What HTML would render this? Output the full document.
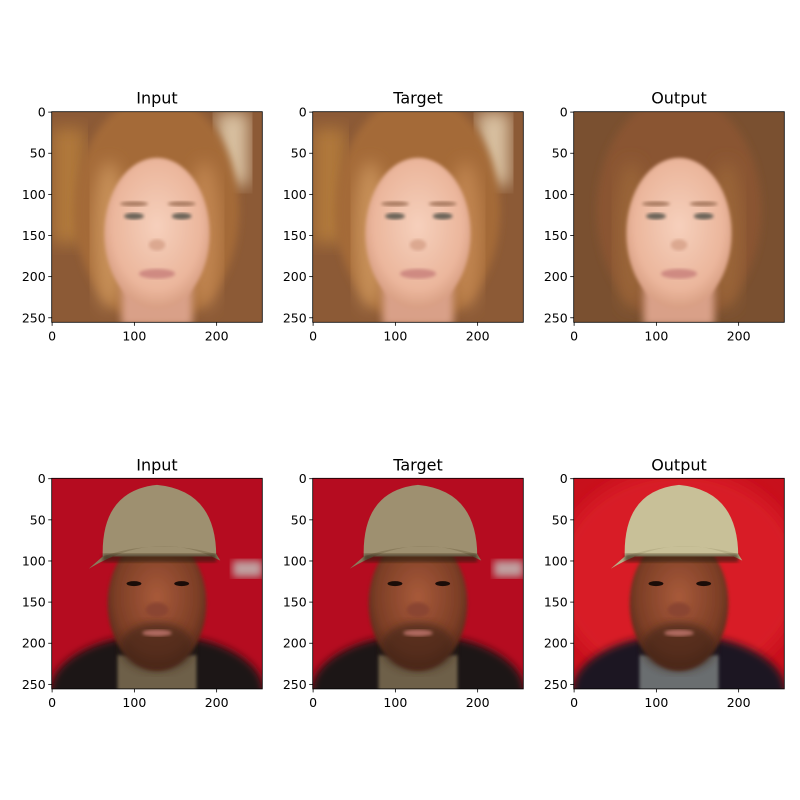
<!DOCTYPE html>
<html><head><meta charset="utf-8"><style>
html,body{margin:0;padding:0;background:#fff;}
svg{display:block;font-family:"DejaVu Sans","Liberation Sans",sans-serif;}
</style></head><body>
<svg id="fig" width="800" height="800" viewBox="0 0 800 800">
<defs>
<filter id="b2"><feGaussianBlur stdDeviation="2"/></filter>
<filter id="b5"><feGaussianBlur stdDeviation="5"/></filter>
<filter id="b10"><feGaussianBlur stdDeviation="10"/></filter>
<clipPath id="clipImg"><rect x="0" y="0" width="256" height="256"/></clipPath>
<radialGradient id="skinW" cx="0.5" cy="0.45" r="0.6"><stop offset="0" stop-color="#f6d0bc"/><stop offset="0.7" stop-color="#ebb69c"/><stop offset="1" stop-color="#d09478"/></radialGradient>
<radialGradient id="skinM" cx="0.5" cy="0.45" r="0.6"><stop offset="0" stop-color="#a85a3a"/><stop offset="0.7" stop-color="#7c3e26"/><stop offset="1" stop-color="#4e2416"/></radialGradient>
</defs>
</svg>
<script>
const panelTitles = ["Input","Target","Output","Input","Target","Output"];
const panelKinds = ["woman","woman","womanOut","man","man","manOut"];
const yTicks = [0,50,100,150,200,250];
const xTicks = [0,100,200];
const imgSize = 256;

const NS="http://www.w3.org/2000/svg";
const svg=document.getElementById('fig');
const colX=[51.7,312.7,573.7], rowY=[111.7,478.3], W=210.6;
function el(tag,attrs,parent){const e=document.createElementNS(NS,tag);for(const k in attrs)e.setAttribute(k,attrs[k]);(parent||svg).appendChild(e);return e;}
function sc(v){return (v+0.5)/imgSize*W;}

function drawWoman(g,out){
  el('rect',{x:0,y:0,width:256,height:256,fill:out?'#7a5030':'#8c5a36'},g);
  if(!out){el('rect',{x:200,y:0,width:40,height:90,fill:'#d8c0a0',filter:'url(#b10)'},g);
  el('rect',{x:0,y:20,width:40,height:140,fill:'#b0783a',filter:'url(#b10)'},g);}
  el('ellipse',{cx:128,cy:120,rx:100,ry:140,fill:out?'#8a5530':'#a46a38',filter:'url(#b5)'},g);
  el('ellipse',{cx:70,cy:150,rx:20,ry:90,fill:out?'#9a6538':'#c79058',filter:'url(#b10)'},g);
  el('ellipse',{cx:186,cy:150,rx:20,ry:90,fill:out?'#9a6538':'#c08450',filter:'url(#b10)'},g);
  el('rect',{x:85,y:210,width:86,height:50,fill:'#d9a088',filter:'url(#b5)'},g);
  el('ellipse',{cx:128,cy:148,rx:64,ry:92,fill:'url(#skinW)',filter:'url(#b2)'},g);
  el('ellipse',{cx:100,cy:127,rx:12,ry:4,fill:'#6a6458',filter:'url(#b2)'},g);
  el('ellipse',{cx:158,cy:127,rx:12,ry:4,fill:'#6a6458',filter:'url(#b2)'},g);
  el('ellipse',{cx:100,cy:112,rx:17,ry:3,fill:'#a87a60',filter:'url(#b2)'},g);
  el('ellipse',{cx:158,cy:112,rx:17,ry:3,fill:'#a87a60',filter:'url(#b2)'},g);
  el('ellipse',{cx:128,cy:162,rx:10,ry:7,fill:'#dca890',filter:'url(#b2)'},g);
  el('ellipse',{cx:128,cy:197,rx:22,ry:6,fill:'#cf8a82',filter:'url(#b2)'},g);
}
function drawMan(g,out){
  el('rect',{x:0,y:0,width:256,height:256,fill:out?'#c8101c':'#b50c20'},g);
  if(out)el('ellipse',{cx:128,cy:120,rx:150,ry:130,fill:'#d81a28',filter:'url(#b10)'},g);
  else{el('rect',{x:220,y:100,width:36,height:20,fill:'#c0a0a0',filter:'url(#b5)'},g);}
  el('ellipse',{cx:128,cy:260,rx:130,ry:70,fill:out?'#1a1820':'#1a1212',filter:'url(#b5)'},g);
  el('rect',{x:80,y:215,width:96,height:45,fill:out?'#6a6e70':'#6e6048',filter:'url(#b2)'},g);
  el('ellipse',{cx:128,cy:152,rx:60,ry:82,fill:'url(#skinM)',filter:'url(#b2)'},g);
  el('ellipse',{cx:128,cy:205,rx:45,ry:30,fill:'#3a2018',opacity:0.6,filter:'url(#b5)'},g);
  el('ellipse',{cx:128,cy:188,rx:18,ry:4,fill:'#b06a60',filter:'url(#b2)'},g);
  el('ellipse',{cx:100,cy:128,rx:9,ry:3,fill:'#1a0c08'},g);
  el('ellipse',{cx:158,cy:128,rx:9,ry:3,fill:'#1a0c08'},g);
  el('ellipse',{cx:128,cy:160,rx:14,ry:9,fill:'#8a4430',filter:'url(#b2)'},g);
  const cap=out?'#c8c098':'#9e9070';
  el('path',{d:'M62,95 Q60,15 128,8 Q200,15 200,95 Z',fill:cap},g);
  el('path',{d:'M45,110 Q128,60 205,100 L200,92 Q128,72 62,95 Z',fill:out?'#b8b088':'#8a7c5c'},g);
  el('rect',{x:62,y:92,width:138,height:10,fill:'#2a1a10',opacity:0.6,filter:'url(#b2)'},g);
}

panelTitles.forEach((t,i)=>{
  const r=Math.floor(i/3), c=i%3, x0=colX[c], y0=rowY[r];
  const ax=el('g',{transform:`translate(${x0},${y0})`});
  
  
  const img=el('g',{transform:`scale(${W/imgSize})`,'clip-path':'url(#clipImg)'},ax);
  
  
  const k=panelKinds[i];
  if(k.startsWith('woman'))drawWoman(img,k.endsWith('Out'));else drawMan(img,k.endsWith('Out'));
  const fr=el('rect',{x:0,y:0,width:W,height:W,fill:'none',stroke:'#000','stroke-width':0.8},ax);
  
  
  const tt=el('text',{x:W/2,y:-8,'text-anchor':'middle','font-size':16,fill:'#000'},ax);
  tt.textContent=t;
  
  
  yTicks.forEach(v=>{
    const y=sc(v);
    el('line',{x1:0,x2:-3.5,y1:y,y2:y,stroke:'#000','stroke-width':0.8},ax);
    const lb=el('text',{x:-6,y:y+4.5,'text-anchor':'end','font-size':12.5,fill:'#000'},ax);
    lb.textContent=v;
    
    
  });
  xTicks.forEach(v=>{
    const x=sc(v);
    el('line',{x1:x,x2:x,y1:W,y2:W+3.5,stroke:'#000','stroke-width':0.8},ax);
    const lb=el('text',{x:x,y:W+18,'text-anchor':'middle','font-size':12.5,fill:'#000'},ax);
    lb.textContent=v;
    
    
  });
});
</script>
</body></html>
